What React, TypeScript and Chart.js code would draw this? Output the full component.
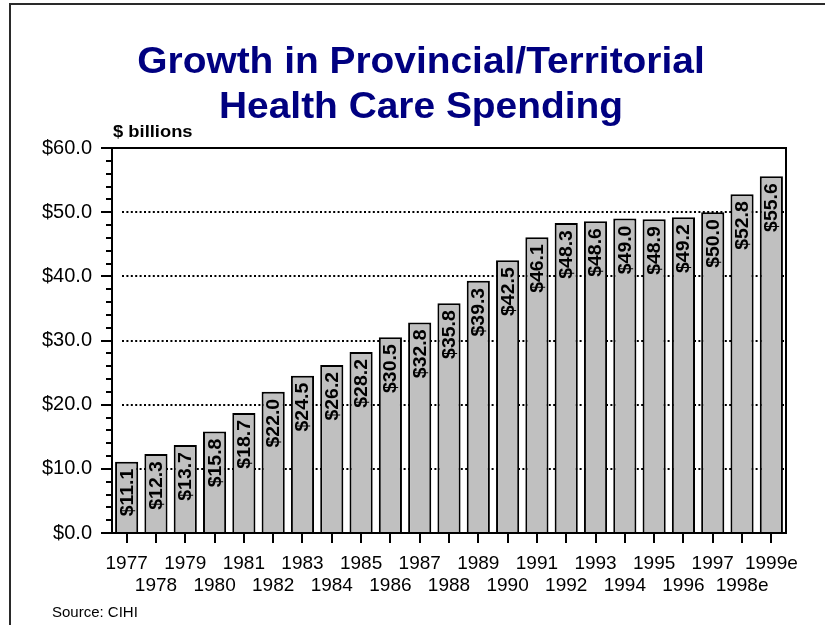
import React, { useEffect, useRef } from 'react';
import { Chart, registerables } from 'chart.js';

Chart.register(...registerables);

const years = [
  '1977', '1978', '1979', '1980', '1981', '1982', '1983', '1984', '1985', '1986',
  '1987', '1988', '1989', '1990', '1991', '1992', '1993', '1994', '1995', '1996',
  '1997', '1998e', '1999e',
];
const spending = [
  11.1, 12.3, 13.7, 15.8, 18.7, 22.0, 24.5, 26.2, 28.2, 30.5,
  32.8, 35.8, 39.3, 42.5, 46.1, 48.3, 48.6, 49.0, 48.9, 49.2,
  50.0, 52.8, 55.6,
];
const yTicks = [0, 10, 20, 30, 40, 50, 60];
const titleLines = ['Growth in Provincial/Territorial', 'Health Care Spending'];
const unitLabel = '$ billions';
const sourceNote = 'Source: CIHI';

const FONT = '"Liberation Sans", Arial, Helvetica, sans-serif';

const line = (ctx: CanvasRenderingContext2D, x1: number, y1: number, x2: number, y2: number) => {
  ctx.beginPath();
  ctx.moveTo(x1, y1);
  ctx.lineTo(x2, y2);
  ctx.stroke();
};

const decor = {
  id: 'decor',
  beforeDatasetsDraw(chart: any) {
    const { ctx, chartArea: a, scales } = chart;
    const y = scales.y;
    ctx.save();
    ctx.strokeStyle = '#000';
    ctx.lineWidth = 2;
    ctx.setLineDash([2, 2.4]);
    yTicks.forEach((v) => {
      if (v <= y.min || v >= y.max) return;
      const py = Math.round(y.getPixelForValue(v));
      line(ctx, a.left + 10, py, a.right - 2, py);
    });
    ctx.restore();
  },
  afterDatasetsDraw(chart: any) {
    const { ctx, chartArea: a, scales } = chart;
    const x = scales.x;
    const y = scales.y;
    const meta = chart.getDatasetMeta(0);
    ctx.save();
    ctx.fillStyle = '#000';
    ctx.font = `bold 18px ${FONT}`;
    ctx.textAlign = 'right';
    ctx.textBaseline = 'middle';
    meta.data.forEach((bar: any, i: number) => {
      ctx.save();
      ctx.translate(bar.x, bar.y + 7);
      ctx.rotate(-Math.PI / 2);
      ctx.scale(1.08, 1);
      ctx.fillText('$' + spending[i].toFixed(1), 0, 1);
      ctx.restore();
    });
    ctx.restore();

    ctx.save();
    ctx.strokeStyle = '#000';
    ctx.lineWidth = 2;
    ctx.setLineDash([]);
    ctx.strokeRect(a.left, a.top, a.right - a.left, a.bottom - a.top);
    for (let v = y.min; v <= y.max; v += 2) {
      const py = Math.round(y.getPixelForValue(v));
      const len = v % 10 === 0 ? 11 : 6;
      line(ctx, a.left - len, py, a.left, py);
    }
    years.forEach((_, i) => {
      const px = Math.round(x.getPixelForValue(i));
      line(ctx, px, a.bottom, px, a.bottom + 10);
    });
    ctx.restore();
  },
  afterDraw(chart: any) {
    const { ctx } = chart;
    ctx.save();
    ctx.fillStyle = '#000080';
    ctx.font = `bold 36px ${FONT}`;
    ctx.textAlign = 'center';
    ctx.textBaseline = 'alphabetic';
    ctx.save();
    ctx.translate(421, 0);
    ctx.scale(1.08, 1);
    ctx.fillText(titleLines[0], 0, 73);
    ctx.fillText(titleLines[1], 0, 118);
    ctx.restore();

    ctx.fillStyle = '#000';
    ctx.textAlign = 'left';
    ctx.font = `bold 17px ${FONT}`;
    ctx.save();
    ctx.translate(113, 137);
    ctx.scale(1.08, 1);
    ctx.fillText(unitLabel, 0, 0);
    ctx.restore();

    ctx.font = `15px ${FONT}`;
    ctx.fillText(sourceNote, 52, 617);

    ctx.strokeStyle = '#2a2a2a';
    ctx.lineWidth = 2;
    ctx.beginPath();
    ctx.moveTo(10, 625);
    ctx.lineTo(10, 4);
    ctx.lineTo(825, 4);
    ctx.stroke();
    ctx.restore();
  },
};

export default function App() {
  const ref = useRef<HTMLCanvasElement | null>(null);

  useEffect(() => {
    if (!ref.current) return;
    const chart = new Chart(ref.current, {
      type: 'bar',
      data: {
        labels: years,
        datasets: [
          {
            data: spending,
            backgroundColor: '#c0c0c0',
            borderColor: '#000',
            borderWidth: 2,
            categoryPercentage: 1,
            barPercentage: 0.79,
          },
        ],
      },
      options: {
        responsive: false,
        maintainAspectRatio: false,
        animation: false,
        layout: { padding: { top: 148, right: 39, left: 0, bottom: 0 } },
        plugins: {
          legend: { display: false },
          title: { display: false },
          tooltip: { enabled: false },
        },
        scales: {
          x: {
            grid: { display: false, drawTicks: false },
            border: { display: false },
            ticks: {
              autoSkip: false,
              maxRotation: 0,
              minRotation: 0,
              color: '#000',
              padding: 20,
              font: { family: FONT, size: 19, lineHeight: 1.15 },
              callback: (_v: any, i: number) => (i % 2 === 0 ? years[i] : ['', years[i]]),
            },
            afterFit: (s: any) => {
              s.height = 92;
            },
          },
          y: {
            min: 0,
            max: 60,
            grid: { display: false, drawTicks: false },
            border: { display: false },
            ticks: {
              stepSize: 10,
              color: '#000',
              padding: 20,
              font: { family: FONT, size: 20 },
              callback: (v: any) => '$' + Number(v).toFixed(1),
            },
            afterFit: (s: any) => {
              s.width = 112;
            },
          },
        },
      },
      plugins: [decor],
    });
    return () => chart.destroy();
  }, []);

  return (
    <div style={{ position: 'absolute', left: 0, top: 0, width: 825, height: 625, background: '#fff' }}>
      <canvas ref={ref} width={825} height={625} style={{ display: 'block' }} />
    </div>
  );
}
